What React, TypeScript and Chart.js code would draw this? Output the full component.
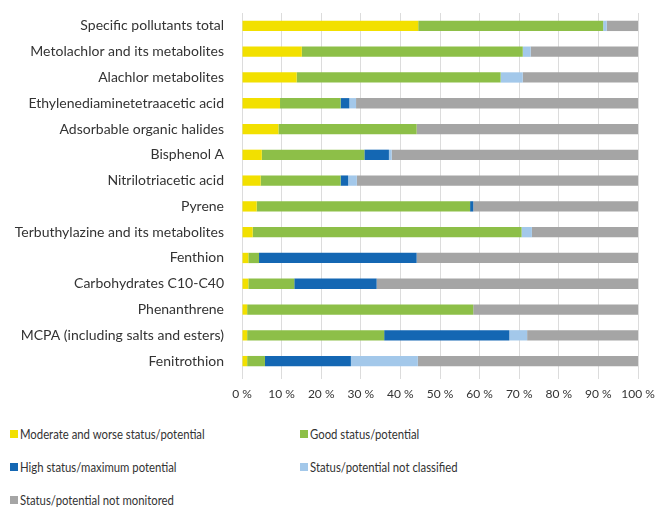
import React, { useEffect, useRef } from "react";
import { Chart, registerables } from "chart.js";

Chart.register(...registerables);

const categories = [
  "Specific pollutants total",
  "Metolachlor and its metabolites",
  "Alachlor metabolites",
  "Ethylenediaminetetraacetic acid",
  "Adsorbable organic halides",
  "Bisphenol A",
  "Nitrilotriacetic acid",
  "Pyrene",
  "Terbuthylazine and its metabolites",
  "Fenthion",
  "Carbohydrates C10-C40",
  "Phenanthrene",
  "MCPA (including salts and esters)",
  "Fenitrothion",
];

const moderateWorse = [44.5, 15.1, 13.8, 9.6, 9.2, 5.0, 4.7, 3.7, 2.7, 1.6, 1.6, 1.3, 1.3, 1.3];
const good = [46.7, 55.8, 51.5, 15.3, 34.9, 25.9, 20.2, 53.9, 67.9, 2.7, 11.6, 57.1, 34.6, 4.5];
const high = [0, 0, 0, 2.2, 0, 6.2, 1.9, 0.8, 0, 39.8, 20.8, 0, 31.6, 21.7];
const notClassified = [0.9, 2.0, 5.6, 1.7, 0, 0.7, 2.2, 0, 2.6, 0, 0, 0, 4.5, 16.9];
const notMonitored = [7.9, 27.1, 29.1, 71.2, 55.9, 62.2, 71.0, 41.6, 26.8, 55.9, 66.0, 41.6, 28.0, 55.6];

const seriesNames = [
  "Moderate and worse status/potential",
  "Good status/potential",
  "High status/maximum potential",
  "Status/potential not classified",
  "Status/potential not monitored",
];
const colors = ["#f2e000", "#8dbf48", "#1467b3", "#a3c8ea", "#a5a5a5"];

const FONT = "Lato, 'Liberation Sans', sans-serif";

export default function App() {
  const ref = useRef<HTMLCanvasElement | null>(null);

  useEffect(() => {
    if (!ref.current) return;
    const values = [moderateWorse, good, high, notClassified, notMonitored];
    const chart = new Chart(ref.current, {
      type: "bar",
      data: {
        labels: categories,
        datasets: values.map((v, i) => ({
          label: seriesNames[i],
          data: v,
          backgroundColor: colors[i],
          borderWidth: 0,
          barPercentage: 0.4,
          categoryPercentage: 1,
        })),
      },
      options: {
        indexAxis: "y",
        animation: false,
        responsive: false,
        maintainAspectRatio: false,
        layout: { padding: { top: 13, right: 22, left: 0, bottom: 0 } },
        plugins: { legend: { display: false }, tooltip: { enabled: false } },
        scales: {
          x: {
            stacked: true,
            min: 0,
            max: 100,
            ticks: {
              stepSize: 10,
              padding: 8,
              maxRotation: 0,
              minRotation: 0,
              autoSkip: false,
              color: "#333",
              font: { family: FONT, size: 12 },
              callback: (v: any) => `${v} %`,
            },
            grid: { color: "#dcdcdc", lineWidth: 1, drawTicks: true, tickLength: 5 },
            border: { display: false },
            afterFit: (scale: any) => {
              scale.height = 36;
              scale.paddingLeft = 0;
              scale.paddingRight = 0;
            },
          },
          y: {
            stacked: true,
            ticks: {
              padding: 18,
              color: "#333",
              font: { family: FONT, size: 14 },
            },
            grid: { display: false, drawTicks: false },
            border: { display: false },
            afterFit: (scale: any) => {
              scale.width = 242;
              scale.paddingTop = 0;
              scale.paddingBottom = 0;
            },
          },
        },
      },
    });
    return () => chart.destroy();
  }, []);

  const legendPos = [
    { left: 10, top: 426 },
    { left: 300, top: 426 },
    { left: 10, top: 459 },
    { left: 300, top: 459 },
    { left: 10, top: 492 },
  ];

  return (
    <div style={{ position: "absolute", left: 0, top: 0, width: 660, height: 507, background: "#fff" }}>
      <canvas ref={ref} width={660} height={410} style={{ position: "absolute", left: 0, top: 0 }} />
      {seriesNames.map((n, i) => (
        <div
          key={n}
          style={{
            position: "absolute",
            left: legendPos[i].left,
            top: legendPos[i].top,
            display: "flex",
            alignItems: "center",
            fontFamily: FONT,
            fontSize: 14,
            color: "#333",
            whiteSpace: "nowrap",
            lineHeight: "16px",
          }}
        >
          <span style={{ display: "inline-block", width: 8, height: 8, background: colors[i], marginRight: 2 }} />
          <span style={{ display: "inline-block", transform: "scaleX(0.81)", transformOrigin: "left center" }}>{n}</span>
        </div>
      ))}
    </div>
  );
}
